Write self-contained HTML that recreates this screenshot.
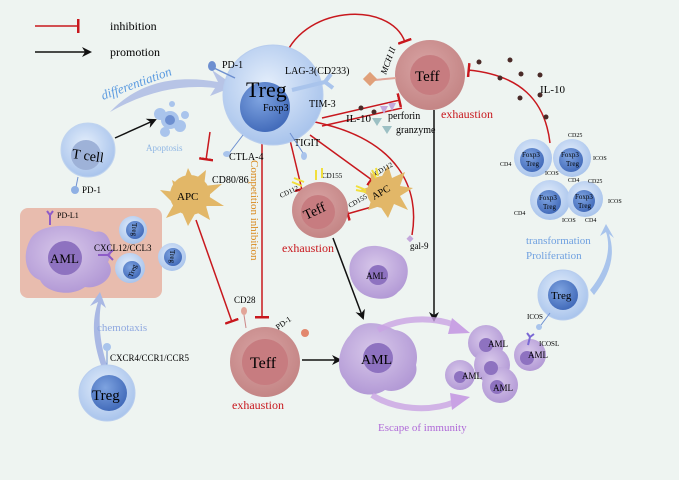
<!DOCTYPE html>
<html><head><meta charset="utf-8"><style>
html,body{margin:0;padding:0;width:679px;height:480px;overflow:hidden;background:#eef4f1}
svg{display:block;font-family:"Liberation Serif",serif}
</style></head><body>
<svg width="679" height="480" viewBox="0 0 679 480" xmlns="http://www.w3.org/2000/svg">
<defs>
<radialGradient id="tb" cx="45%" cy="40%" r="60%"><stop offset="0" stop-color="#e4eefb"/><stop offset="1" stop-color="#a9c4ec"/></radialGradient>
<radialGradient id="tn" cx="40%" cy="35%" r="70%"><stop offset="0" stop-color="#7ea3e0"/><stop offset="1" stop-color="#3f68b8"/></radialGradient>
<radialGradient id="te" cx="45%" cy="40%" r="60%"><stop offset="0" stop-color="#d9a5a5"/><stop offset="1" stop-color="#c48585"/></radialGradient>
<radialGradient id="am" cx="45%" cy="40%" r="60%"><stop offset="0" stop-color="#d8c8ea"/><stop offset="1" stop-color="#b39ad6"/></radialGradient>
<marker id="ab" markerWidth="10" markerHeight="10" refX="8" refY="5" orient="auto" markerUnits="userSpaceOnUse"><path d="M0,0 L10,5 L0,10 L3,5z" fill="#111"/></marker>
<marker id="ib" markerWidth="4" markerHeight="14" refX="2" refY="7" orient="auto" markerUnits="userSpaceOnUse"><rect x="0" y="0" width="2.5" height="14" fill="#c8181e"/></marker>
</defs>
<rect width="679" height="480" fill="#eef4f1"/>
<!-- legend -->
<line x1="35" y1="26" x2="79" y2="26" stroke="#c8181e" stroke-width="1.5" marker-end="url(#ib)"/>
<text x="110" y="30" font-size="12">inhibition</text>
<line x1="35" y1="52" x2="90" y2="52" stroke="#111" stroke-width="1.5" marker-end="url(#ab)"/>
<text x="110" y="56" font-size="12">promotion</text>

<!-- red inhibition lines -->
<g stroke="#c8181e" stroke-width="1.5" fill="none">
<path d="M283,62 C300,5 390,0 405,42" marker-end="url(#ib)"/>
<path d="M322,118 L400,100" marker-end="url(#ib)"/>
<path d="M322,126 L402,108"/>
<path d="M210,132 L206,160" marker-end="url(#ib)" />
<path d="M262,142 L262,318" marker-end="url(#ib)"/>
<path d="M290,140 L302,190" marker-end="url(#ib)"/>
<path d="M310,135 L372,180" marker-end="url(#ib)"/>
<path d="M315,122 C400,140 420,190 412,235"/>
<path d="M375,206 L347,214" marker-end="url(#ib)"/>
<path d="M196,220 L232,322" marker-end="url(#ib)"/>
<path d="M550,143 C545,100 520,75 468,70" marker-end="url(#ib)"/>
</g>
<g fill="#4a2a28"><circle cx="479" cy="62" r="2.5"/><circle cx="510" cy="60" r="2.5"/><circle cx="500" cy="78" r="2.5"/><circle cx="521" cy="74" r="2.5"/><circle cx="540" cy="75" r="2.5"/><circle cx="520" cy="98" r="2.5"/><circle cx="540" cy="95" r="2.5"/><circle cx="546" cy="117" r="2.5"/><circle cx="361" cy="108" r="2.5"/><circle cx="374" cy="112" r="2.5"/></g>
<text x="540" y="93" font-size="11">IL-10</text>
<text x="346" y="122" font-size="11">IL-10</text>
<text x="388" y="119" font-size="10">perforin</text>
<text x="396" y="133" font-size="10">granzyme</text>
<path d="M380,106 l8,0 -4,8z M388,103 l8,0 -4,8z" fill="#c4a8dc"/>
<path d="M372,118 l10,0 -5,8z M382,126 l10,0 -5,8z" fill="#9cc0c4"/>

<!-- black arrows -->
<g stroke="#111" stroke-width="1.5" fill="none">
<line x1="115" y1="138" x2="155" y2="120" marker-end="url(#ab)"/>
<line x1="434" y1="110" x2="434" y2="320" marker-end="url(#ab)"/>
<line x1="333" y1="238" x2="363" y2="318" marker-end="url(#ab)"/>
<line x1="302" y1="360" x2="340" y2="360" marker-end="url(#ab)"/>
</g>

<!-- differentiation arrow -->
<path d="M110,112 C140,80 180,75 218,82 L212,70 L235,86 L210,96 L215,88 C180,84 145,92 110,112z" fill="#a9b8e4" opacity="0.8"/>
<text x="0" y="0" font-size="13" fill="#5a9ae0" font-style="italic" transform="translate(103,100) rotate(-20)">differentiation</text>

<!-- Treg main -->
<circle cx="273" cy="95" r="50" fill="url(#tb)" stroke="#b8cdee"/>
<circle cx="265" cy="107" r="25" fill="url(#tn)"/>
<text x="246" y="97" font-size="22">Treg</text>
<text x="263" y="111" font-size="10">Foxp3</text>
<line x1="235" y1="78" x2="214" y2="68" stroke="#6d8fd0" stroke-width="1.5"/><ellipse cx="212" cy="66" rx="4" ry="5" fill="#6d8fd0"/>
<text x="222" y="68" font-size="10">PD-1</text>
<path d="M292,90 L325,82 M325,82 l6,-8 M325,82 l8,6" stroke="#a9c4ec" stroke-width="4" fill="none"/>
<text x="285" y="74" font-size="10">LAG-3(CD233)</text>
<text x="309" y="107" font-size="10">TIM-3</text>
<text x="294" y="146" font-size="10">TIGIT</text>
<line x1="290" y1="133" x2="303" y2="153" stroke="#6d8fd0"/><ellipse cx="304" cy="156" rx="3" ry="4" fill="#a9c4ec"/>
<line x1="243" y1="135" x2="230" y2="152" stroke="#6d8fd0"/><ellipse cx="227" cy="154" rx="4" ry="3" fill="#a9c4ec"/>
<text x="229" y="160" font-size="10">CTLA-4</text>
<text x="0" y="0" font-size="11" fill="#d98a1e" transform="translate(251,160) rotate(90)">Competition inhibition</text>

<!-- T cell -->
<circle cx="88" cy="150" r="27" fill="url(#tb)" stroke="#c0d4ef"/>
<circle cx="86" cy="155" r="15" fill="#9eb2d8"/>
<text x="72" y="160" font-size="14" transform="rotate(8 86 155)">T cell</text>
<line x1="78" y1="177" x2="76" y2="187" stroke="#6d8fd0"/><circle cx="75" cy="190" r="4" fill="#8fb0e4"/>
<text x="82" y="193" font-size="9">PD-1</text>
<!-- apoptosis -->
<g fill="#a9c4ec"><circle cx="170" cy="120" r="9"/><circle cx="160" cy="114" r="6"/><circle cx="180" cy="126" r="6"/><circle cx="165" cy="132" r="5"/><circle cx="185" cy="115" r="4"/><circle cx="172" cy="104" r="3"/></g>
<circle cx="170" cy="120" r="5" fill="#6d8fd0"/>
<text x="146" y="151" font-size="9" fill="#8fb6e4">Apoptosis</text>

<!-- APC 1 -->
<g fill="#e2b768"><circle cx="190" cy="195" r="20"/><path d="M160,190 L175,192 L172,180 L182,186 L188,168 L194,180 L206,170 L204,186 L222,184 L208,196 L224,206 L206,206 L210,220 L196,212 L188,226 L182,212 L166,218 L174,204z"/></g>
<text x="177" y="200" font-size="11">APC</text>
<text x="212" y="183" font-size="10">CD80/86</text>

<!-- box -->
<rect x="20" y="208" width="142" height="90" rx="8" fill="#e8bcae"/>
<path d="M30,240 C40,220 80,225 95,232 C110,228 115,250 108,262 C118,275 100,290 85,287 C70,298 45,292 40,280 C25,275 22,255 30,240z" fill="url(#am)"/>
<circle cx="65" cy="258" r="17" fill="#8e72c0"/>
<text x="50" y="263" font-size="13">AML</text>
<path d="M98,255 L108,255 M108,255 l5,-5 M108,255 l5,5" stroke="#8e5cc8" stroke-width="2" fill="none"/>
<text x="94" y="251" font-size="9">CXCL12/CCL3</text>
<path d="M50,225 L50,215 M50,215 l-3,-4 M50,215 l3,-4" stroke="#8e5cc8" stroke-width="2" fill="none"/>
<text x="57" y="218" font-size="8">PD-L1</text>
<circle cx="130" cy="268" r="15" fill="url(#tb)"/><circle cx="132" cy="270" r="9" fill="url(#tn)"/><text x="125" y="273" font-size="7" transform="rotate(-70 132 270)">Treg</text>
<circle cx="172" cy="257" r="14" fill="url(#tb)"/><circle cx="173" cy="257" r="9" fill="url(#tn)"/><text x="166" y="260" font-size="7" transform="rotate(90 173 257)">Treg</text>
<circle cx="133" cy="230" r="14" fill="url(#tb)"/><circle cx="135" cy="230" r="9" fill="url(#tn)"/><text x="128" y="233" font-size="7" transform="rotate(90 135 230)">Treg</text>

<!-- chemotaxis -->
<path d="M102,368 C92,340 92,320 98,302 L90,306 L100,292 L106,308 L101,304 C98,322 100,345 108,368z" fill="#a9b8e4"/>
<text x="97" y="331" font-size="11" fill="#8fa8e0">chemotaxis</text>
<line x1="107" y1="367" x2="107" y2="350" stroke="#6d8fd0"/><circle cx="107" cy="347" r="4" fill="#a9c4ec"/>
<text x="110" y="361" font-size="9">CXCR4/CCR1/CCR5</text>
<circle cx="107" cy="393" r="28" fill="url(#tb)" stroke="#b8cdee"/>
<circle cx="109" cy="393" r="18" fill="url(#tn)"/>
<text x="92" y="400" font-size="15">Treg</text>

<!-- Teff bottom -->
<circle cx="265" cy="362" r="35" fill="url(#te)"/>
<circle cx="265" cy="362" r="23" fill="#c77c80"/>
<text x="250" y="368" font-size="16">Teff</text>
<text x="232" y="409" font-size="12" fill="#c8181e">exhaustion</text>
<text x="234" y="303" font-size="9">CD28</text>
<ellipse cx="244" cy="311" rx="3" ry="4" fill="#e2a598"/><line x1="244" y1="315" x2="246" y2="328" stroke="#c88"/>
<text x="0" y="0" font-size="8" transform="translate(278,330) rotate(-35)">PD-1</text>
<circle cx="305" cy="333" r="4" fill="#e2876e"/>

<!-- Teff top -->
<circle cx="430" cy="75" r="35" fill="url(#te)"/>
<circle cx="430" cy="75" r="20" fill="#c77c80"/>
<text x="415" y="81" font-size="15">Teff</text>
<text x="441" y="118" font-size="12" fill="#c8181e">exhaustion</text>
<line x1="396" y1="78" x2="375" y2="80" stroke="#e2a598" stroke-width="2"/><rect x="365" y="74" width="10" height="10" fill="#e0a07a" transform="rotate(45 370 79)"/>
<text x="0" y="0" font-size="9" font-style="italic" transform="translate(386,75) rotate(-70)">MCH II</text>

<!-- Teff middle -->
<circle cx="320" cy="210" r="28" fill="url(#te)"/>
<circle cx="318" cy="212" r="17" fill="#c77c80"/>
<text x="0" y="0" font-size="14" transform="translate(306,220) rotate(-25)">Teff</text>
<text x="282" y="252" font-size="12" fill="#c8181e">exhaustion</text>
<text x="0" y="0" font-size="7" transform="translate(281,198) rotate(-25)">CD112</text>
<text x="322" y="178" font-size="7">CD155</text>
<path d="M292,182 l10,4 M294,178 l10,4 M316,170 l0,10 M322,168 l0,10" stroke="#f1df3c" stroke-width="2"/>

<!-- APC 2 -->
<g fill="#e2b768"><circle cx="383" cy="192" r="16"/><path d="M360,190 L372,186 L370,172 L380,180 L388,165 L392,178 L405,172 L400,186 L413,188 L400,196 L408,210 L394,204 L388,218 L380,206 L368,210 L372,198z"/></g>
<text x="0" y="0" font-size="10" transform="translate(374,200) rotate(-30)">APC</text>
<text x="0" y="0" font-size="7" transform="translate(350,208) rotate(-30)">CD155</text>
<text x="0" y="0" font-size="7" transform="translate(376,176) rotate(-30)">CD112</text>
<path d="M356,186 l10,4 M356,190 l10,2 M372,170 l4,8 M376,168 l2,8" stroke="#f1df3c" stroke-width="2"/>

<!-- AML medium -->
<path d="M357,252 C370,240 392,248 402,256 C412,266 408,285 398,292 C390,302 370,300 360,292 C348,282 345,262 357,252z" fill="url(#am)"/>
<circle cx="378" cy="275" r="10" fill="#8e72c0"/>
<text x="366" y="279" font-size="9">AML</text>
<rect x="408" y="236" width="5" height="5" fill="#c4a8dc" transform="rotate(45 410 238)"/>
<text x="410" y="249" font-size="9">gal-9</text>

<!-- AML big -->
<path d="M350,335 C360,318 380,322 395,330 C412,332 420,350 416,365 C420,380 400,395 385,390 C370,400 350,392 345,380 C335,370 338,348 350,335z" fill="url(#am)"/>
<circle cx="378" cy="358" r="15" fill="#8e72c0"/>
<text x="361" y="364" font-size="14">AML</text>
<path d="M378,330 C400,318 430,316 455,325" stroke="#c9a2e4" stroke-width="6" fill="none" opacity="0.8"/>
<path d="M452,318 L470,333 L448,334z" fill="#c9a2e4"/>
<path d="M372,395 C395,410 430,412 455,402" stroke="#c9a2e4" stroke-width="6" fill="none" opacity="0.8"/>
<path d="M450,393 L470,397 L452,410z" fill="#c9a2e4"/>
<text x="378" y="431" font-size="11" fill="#b06ad8">Escape of immunity</text>

<!-- AML cluster -->
<g fill="url(#am)">
<circle cx="486" cy="343" r="18"/><circle cx="492" cy="365" r="18"/><circle cx="460" cy="375" r="15"/><circle cx="500" cy="385" r="18"/><circle cx="530" cy="355" r="16"/>
</g>
<g fill="#8e72c0"><circle cx="486" cy="345" r="7"/><circle cx="491" cy="368" r="7"/><circle cx="460" cy="377" r="6"/><circle cx="497" cy="387" r="7"/><circle cx="527" cy="358" r="7"/></g>
<g font-size="9"><text x="488" y="347">AML</text><text x="462" y="379">AML</text><text x="493" y="391">AML</text><text x="528" y="358">AML</text></g>
<path d="M528,345 L530,337 M530,337 l-3,-4 M530,337 l4,-3" stroke="#7a68d4" stroke-width="2" fill="none"/>
<text x="539" y="346" font-size="7">ICOSL</text>

<!-- Treg right -->
<circle cx="563" cy="295" r="25" fill="url(#tb)" stroke="#b8cdee"/>
<circle cx="563" cy="295" r="15" fill="url(#tn)"/>
<text x="551" y="299" font-size="11">Treg</text>
<line x1="550" y1="313" x2="541" y2="325" stroke="#6d8fd0"/><circle cx="539" cy="327" r="3" fill="#a9c4ec"/>
<text x="527" y="319" font-size="7">ICOS</text>
<path d="M590,290 C605,272 612,250 606,232 L600,236 L606,224 L614,238 L609,234 C616,255 610,275 594,295z" fill="#a9c4ec"/>
<text x="526" y="244" font-size="11" fill="#6fa0e0">transformation</text>
<text x="526" y="259" font-size="11" fill="#6fa0e0">Proliferation</text>

<!-- Treg cluster -->
<g>
<circle cx="533" cy="158" r="19" fill="url(#tb)"/><circle cx="532" cy="160" r="12" fill="url(#tn)"/>
<circle cx="572" cy="158" r="19" fill="url(#tb)"/><circle cx="571" cy="160" r="12" fill="url(#tn)"/>
<circle cx="550" cy="200" r="20" fill="url(#tb)"/><circle cx="549" cy="202" r="12" fill="url(#tn)"/>
<circle cx="585" cy="199" r="18" fill="url(#tb)"/><circle cx="584" cy="201" r="11" fill="url(#tn)"/>
</g>
<g font-size="7"><text x="522" y="157">Foxp3</text><text x="526" y="166">Treg</text><text x="561" y="157">Foxp3</text><text x="566" y="166">Treg</text><text x="539" y="200">Foxp3</text><text x="543" y="209">Treg</text><text x="575" y="199">Foxp3</text><text x="578" y="208">Treg</text></g>
<g font-size="6"><text x="500" y="166">CD4</text><text x="545" y="175">ICOS</text><text x="568" y="137">CD25</text><text x="593" y="160">ICOS</text><text x="568" y="182">CD4</text><text x="588" y="183">CD25</text><text x="514" y="215">CD4</text><text x="562" y="222">ICOS</text><text x="585" y="222">CD4</text><text x="608" y="203">ICOS</text></g>
</svg>
</body></html>
